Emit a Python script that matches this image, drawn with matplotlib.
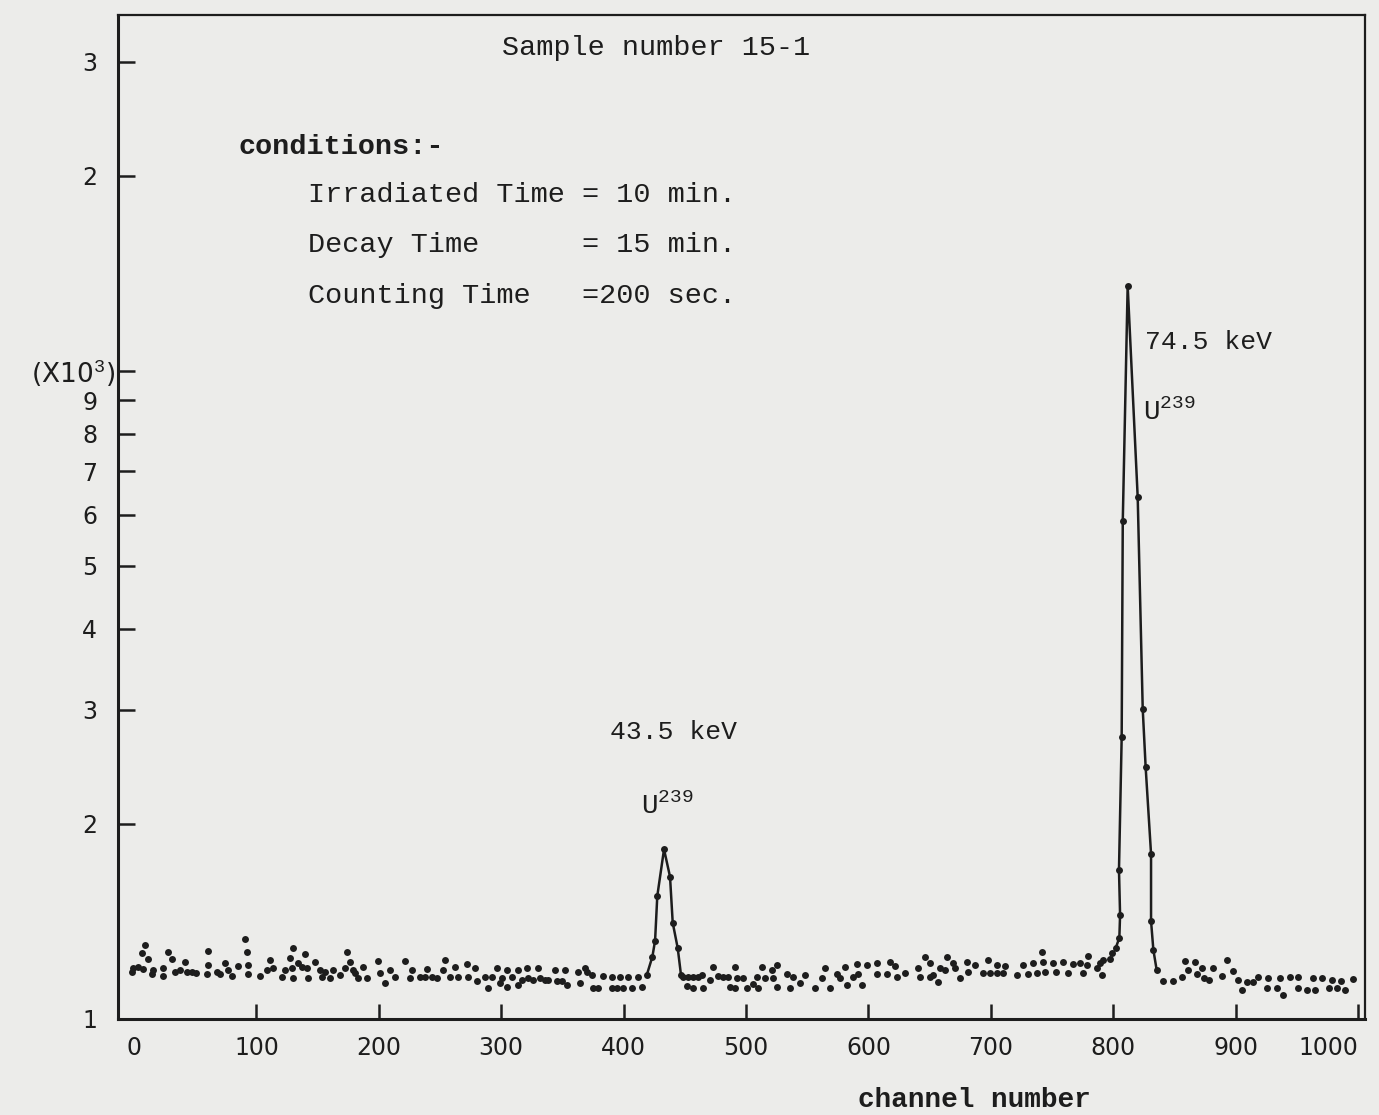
import matplotlib.pyplot as plt
from matplotlib.ticker import NullLocator

plt.rcParams['mathtext.fontset'] = 'custom'
plt.rcParams['mathtext.rm'] = 'Liberation Mono'
plt.rcParams['mathtext.bf'] = 'Liberation Mono:bold'

# ---------------- data (channel, counts) ----------------
# scattered background points
bg_channel = [
    9.0, 6.3, 11.7, -0.6, -1.9, 3.5, 7.6, 14.5, 15.8, 23.4, 23.9, 28.0, 30.8, 33.5, 37.6,
    41.7, 43.1, 47.1, 50.7, 60.7, 60.7, 59.9, 67.6, 70.3, 74.3, 77.0, 79.8, 85.2, 90.7,
    92.1, 93.4, 93.4, 102.9, 108.4, 111.1, 113.8, 120.7, 123.4, 127.5, 128.8, 130.1, 130.1,
    134.2, 137.0, 139.7, 141.1, 142.4, 147.9, 152.0, 153.3, 156.0, 160.1, 162.8, 168.3,
    173.8, 172.4, 176.5, 179.2, 180.6, 183.3, 187.3, 190.1, 199.6, 201.0, 205.1, 209.2,
    213.2, 221.4, 226.9, 225.5, 233.7, 239.1, 237.7,
    243.2, 247.3, 254.1, 252.7, 258.2, 262.3, 265.0, 271.8, 273.1, 278.6, 280.0, 286.8,
    289.5, 292.2, 296.3, 299.0, 300.4, 304.5, 304.5, 308.6, 314.0, 314.0, 316.7, 320.8,
    322.1, 326.2, 330.3, 331.7, 335.8, 338.5, 344.0, 345.3, 349.4, 352.1, 353.5, 363.0,
    364.4, 368.5, 369.8, 373.9, 375.2, 379.3, 383.4, 390.3, 390.3, 394.4, 397.1, 399.8,
    403.8, 406.6, 412.0, 414.8,
    448.8, 452.9, 456.9, 461.0, 463.8, 451.5, 456.9, 465.1, 470.6, 473.3, 477.4, 481.5,
    486.9, 485.5, 491.0, 492.4, 491.0,
    497.8, 500.6, 506.0, 508.7, 510.1, 512.8, 515.5, 521.0, 522.3, 525.1, 525.1, 533.2,
    535.9, 538.6, 544.1, 548.2, 556.4, 561.8, 564.5, 568.6, 574.1, 576.8, 582.3, 580.9,
    587.7, 590.4, 591.7, 594.5, 598.6, 606.8, 606.8, 614.9, 617.6, 621.7, 623.1, 629.9,
    640.8, 642.2, 646.2, 650.3, 650.3, 653.0, 657.1, 658.5, 664.0, 662.6, 669.4, 670.8,
    674.8, 680.3, 681.6, 687.1, 693.9, 698.0, 699.3, 704.8, 704.8, 711.6, 710.2, 721.2,
    726.6, 730.6, 734.7, 737.5, 741.6, 742.9, 744.3,
    750.6, 753.3, 759.2, 763.3, 767.4, 772.9, 775.6, 778.3, 779.7, 786.5, 790.6, 789.2,
    791.9, 797.4, 798.8,
    840.9, 849.1, 856.0, 858.7, 861.4, 866.8, 868.2, 872.3, 874.2, 878.5, 881.8, 888.6,
    892.7, 898.1, 902.2, 905.0, 909.1, 914.5, 918.5, 925.4, 926.7, 933.6, 936.3, 939.0,
    944.4, 951.2, 951.2, 958.1, 963.5, 964.9, 970.3, 976.6, 978.5, 982.6, 985.9, 989.4,
    996.2,
]
bg_counts = [
    130.1, 126.3, 123.8, 120.0, 118.0, 120.4, 119.4, 117.2, 119.0, 119.7, 116.6, 127.0,
    123.8, 118.3, 119.0, 122.6, 118.0, 118.3, 117.6, 127.3, 121.2, 117.2, 118.0, 117.2,
    121.9, 119.0, 116.6, 120.9, 132.8, 127.0, 121.2, 117.2, 116.6, 119.0, 123.3, 119.7,
    116.2, 119.0, 124.4, 119.7, 128.6, 115.6, 121.9, 120.4, 125.8, 119.7, 115.6, 122.6,
    119.0, 116.2, 118.0, 115.6, 119.0, 116.9, 126.8, 119.7, 122.6, 119.0, 117.6, 115.6,
    120.4, 115.6, 122.9, 117.6, 113.5, 119.0, 116.2, 122.9, 119.0, 115.6, 116.2, 119.4,
    115.9,
    116.2, 115.6, 123.3, 119.0, 115.9, 120.4, 115.9, 121.5, 116.2, 119.7, 114.5, 116.2,
    111.5, 115.9, 120.0, 113.7, 115.6, 119.0, 112.2, 115.9, 119.0, 112.8, 114.9, 120.0,
    115.6, 114.9, 119.7, 115.6, 114.9, 114.9, 119.0, 114.5, 114.5, 119.0, 112.8, 118.3,
    113.5, 119.7, 118.0, 116.9, 111.7, 111.7, 116.6, 115.9, 111.5, 111.5, 115.9, 111.5,
    115.9, 111.5, 115.9, 112.2,
    116.2, 115.9, 116.2, 116.2, 116.9, 112.6, 111.5, 111.5, 114.9, 120.4, 116.5, 116.2,
    112.2, 115.9, 120.4, 115.6, 111.5,
    115.6, 111.5, 113.1, 116.2, 111.5, 120.4, 115.6, 119.0, 115.6, 121.2, 112.2, 117.2,
    111.5, 116.2, 113.5, 116.9, 111.5, 115.6, 119.7, 111.5, 117.2, 115.6, 112.8, 120.4,
    115.9, 121.5, 117.2, 112.8, 121.2, 121.9, 117.2, 117.2, 122.6, 120.9, 116.2, 117.6,
    119.7, 116.2, 124.8, 121.9, 116.2, 116.9, 114.1, 119.7, 124.8, 119.0, 121.9, 119.7,
    115.6, 122.6, 118.3, 121.2, 117.6, 123.3, 117.6, 121.2, 117.6, 120.9, 117.6, 116.9,
    121.2, 117.2, 121.9, 117.6, 127.0, 122.6, 118.3,
    121.9, 118.0, 122.3, 117.6, 121.5, 121.9, 117.6, 121.2, 125.2, 119.7, 116.9, 121.9,
    123.3, 123.8, 126.3,
    114.6, 114.6, 115.9, 122.9, 119.0, 122.6, 117.2, 119.7, 115.6, 114.9, 119.7, 116.5,
    123.3, 118.6, 114.9, 110.9, 114.1, 114.1, 115.9, 111.5, 115.6, 111.5, 115.6, 108.9,
    116.2, 116.2, 111.7, 110.9, 115.6, 110.9, 115.6, 111.5, 114.9, 111.5, 114.5, 110.9,
    115.3,
]

# 43.5 keV peak (joined by a line)
peak1_channel = [418.9, 423.5, 425.7, 427.5, 433.0, 437.9, 440.1, 444.2, 446.9]
peak1_counts = [116.9, 124.8, 132.1, 154.8, 182.7, 165.8, 140.8, 128.6, 116.8]

# 74.5 keV peak (joined by a line)
peak2_channel = [802.1, 805.0, 805.6, 804.7, 806.9, 807.8, 811.8, 820.0, 824.1, 826.5,
                 830.9, 830.9, 832.8, 835.5]
peak2_counts = [128.8, 133.4, 144.7, 169.8, 271.9, 586.8, 1352.6, 638.0, 300.9, 244.4,
                179.8, 141.6, 127.8, 119.0]

x_ticks = [0, 100, 200, 300, 400, 500, 600, 700, 800, 900, 1000]
y_ticks = [100, 200, 300, 400, 500, 600, 700, 800, 900, 1000, 2000, 3000]
y_labels = ['1', '2', '3', '4', '5', '6', '7', '8', '9', '(X10$^3$)', '2', '3']

# ---------------- figure ----------------
paper = '#ececea'
ink = '#1d1d1d'
W, H = 1379, 1115

def fpos(x, y):
    # pixel position -> figure fraction
    return x / W, 1 - y / H

fig = plt.figure(figsize=(W / 100, H / 100), dpi=100, facecolor=paper)
ax = fig.add_axes([118 / W, 1 - 1019 / H, (1365 - 118) / W, (1019 - 15) / H])
ax.set_facecolor(paper)

ax.plot(bg_channel, bg_counts, 'o', color=ink, ms=5, mew=0)
ax.plot(peak1_channel, peak1_counts, '-o', color=ink, lw=1.8, ms=5, mew=0)
ax.plot(peak2_channel, peak2_counts, '-o', color=ink, lw=1.8, ms=5, mew=0)

ax.set_yscale('log')
ax.set_xlim(-13.1, 1005.7)
ax.set_ylim(100, 3540)

ax.set_xticks(x_ticks)
ax.set_xticklabels([str(v) for v in x_ticks])
ax.set_yticks(y_ticks)
ax.set_yticklabels(y_labels)
ax.yaxis.set_minor_locator(NullLocator())
ax.xaxis.set_minor_locator(NullLocator())

ax.tick_params(axis='x', direction='in', length=11, width=1.8, pad=12,
               labelsize=17, colors=ink)
ax.tick_params(axis='y', direction='in', length=12, width=1.8, pad=15,
               labelsize=17, colors=ink)

# long tick at 10^3, no tick mark at channel 0
yt = ax.yaxis.get_major_ticks()
yt[9].tick1line.set_markersize(24)
yt[9].set_pad(2)
yt[9].label1.set_fontsize(19)
xt = ax.xaxis.get_major_ticks()
xt[0].tick1line.set_visible(False)
xt[-1].label1.set_horizontalalignment('right')

for side in ['left', 'bottom']:
    ax.spines[side].set_linewidth(2.2)
    ax.spines[side].set_color(ink)
for side in ['top', 'right']:
    ax.spines[side].set_linewidth(1.6)
    ax.spines[side].set_color(ink)

# ---------------- typed text ----------------
mono = 'Liberation Mono'
fig.text(*fpos(502, 48), 'Sample number 15-1', family=mono, fontsize=20.5,
         color=ink, va='center')
fig.text(*fpos(238, 147), 'conditions:-', family=mono, fontsize=20.5,
         fontweight='bold', color=ink, va='center')
fig.text(*fpos(308, 195), 'Irradiated Time = 10 min.', family=mono, fontsize=20.5,
         color=ink, va='center')
fig.text(*fpos(308, 245), 'Decay Time      = 15 min.', family=mono, fontsize=20.5,
         color=ink, va='center')
fig.text(*fpos(308, 296), 'Counting Time   =200 sec.', family=mono, fontsize=20.5,
         color=ink, va='center')

fig.text(*fpos(1145, 342), '74.5 keV', family=mono, fontsize=19, color=ink, va='center')
fig.text(*fpos(1143, 412), 'U$^{239}$', family=mono, fontsize=20, color=ink, va='center')
fig.text(*fpos(610, 732), '43.5 keV', family=mono, fontsize=19, color=ink, va='center')
fig.text(*fpos(641, 806), 'U$^{239}$', family=mono, fontsize=20, color=ink, va='center')

fig.text(*fpos(858, 1100), 'channel number', family=mono, fontsize=20,
         fontweight='bold', color=ink, va='center')

fig.savefig('out.png', dpi=100, facecolor=paper)
